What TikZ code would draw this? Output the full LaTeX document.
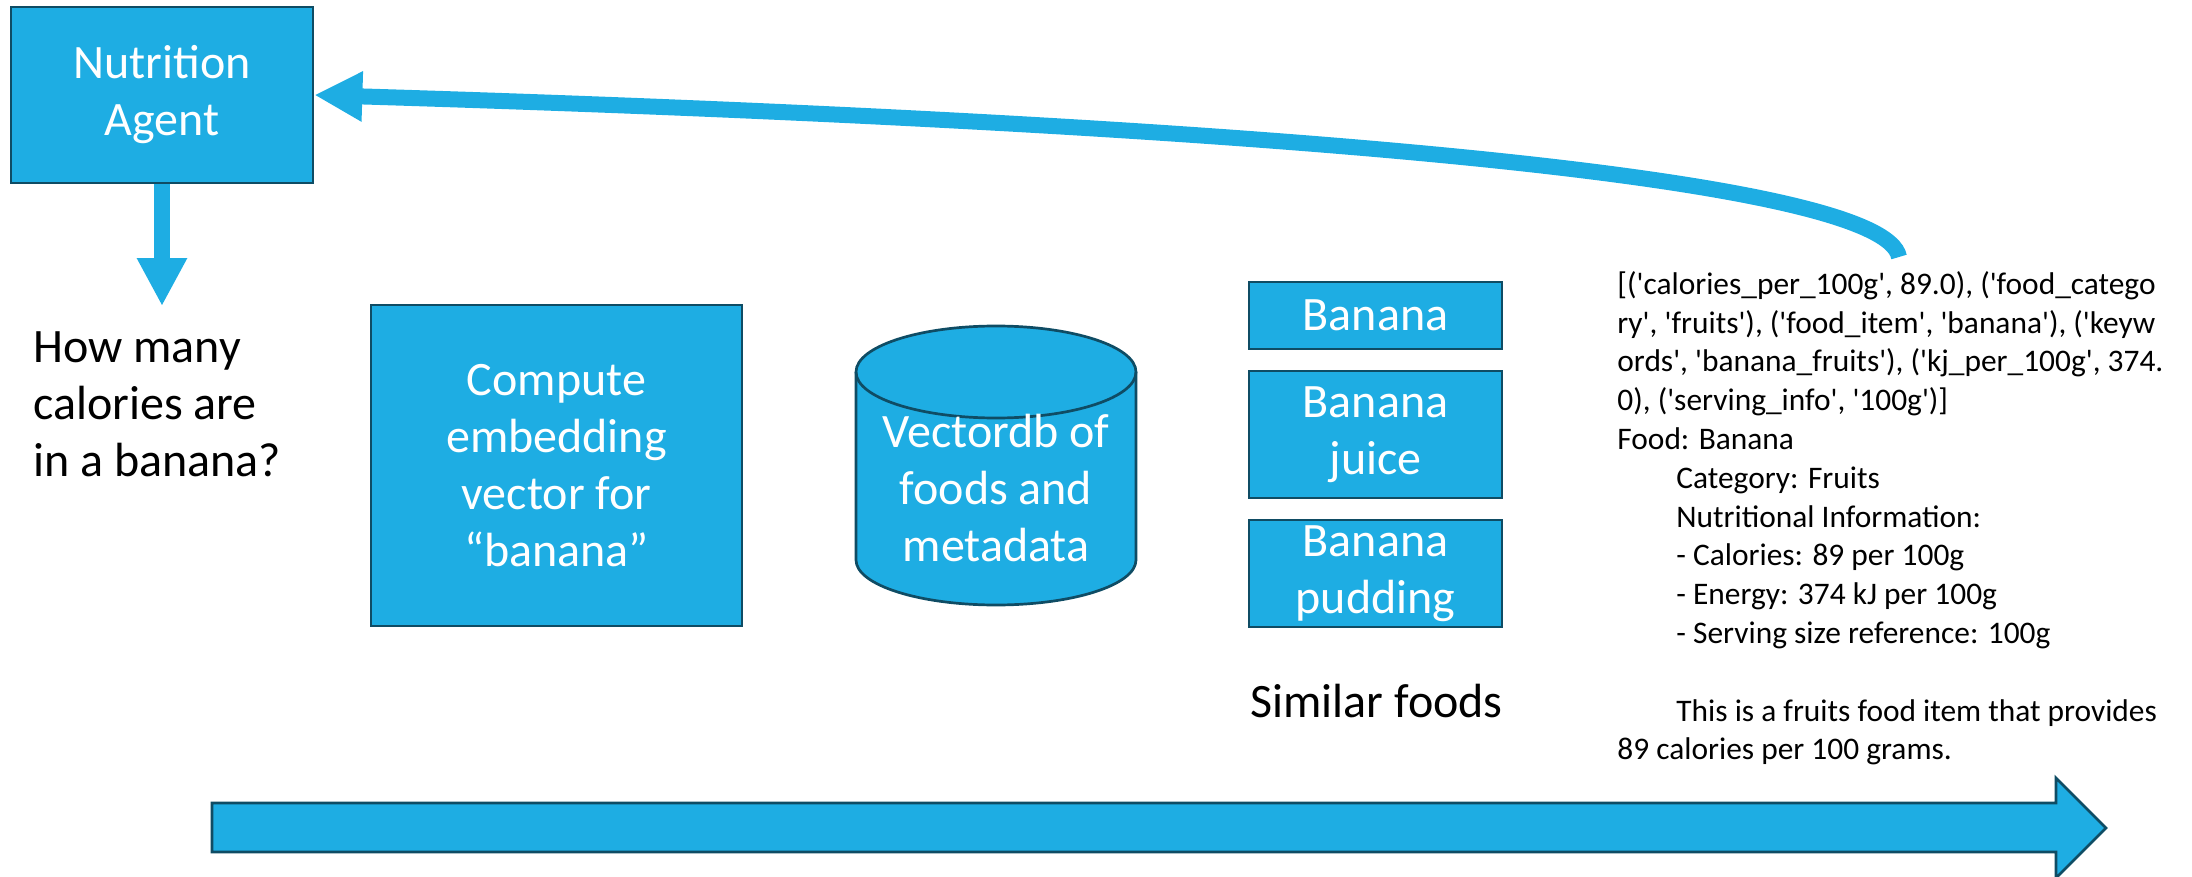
\documentclass[tikz,border=0pt]{standalone}
\usepackage{fontspec}
\setmainfont{Carlito}
\newfontfamily\rawfont{Carlito}[Ligatures=TeXOff]
\usetikzlibrary{positioning}
\usetikzlibrary{arrows.meta}
\definecolor{boxblue}{HTML}{1EADE3}
\definecolor{boxline}{HTML}{0F4C64}
\tikzset{x=0.5pt, y=0.5pt,
    every node/.style={
        inner sep=0pt},
    bluebox/.style={
        draw=boxline,
        line width=1.35pt,
        fill=boxblue,
        text=white,
        align=center,
        font=\fontsize{24}{28.5}\selectfont},
    plain/.style={
        align=left,
        font=\fontsize{24}{28.5}\selectfont},
    fatarrow/.style={
        draw=boxblue,
        line width=8pt,
        -{Triangle[length=24pt,width=23.5pt]}}}

\begin{document}
\begin{tikzpicture}
        \useasboundingbox (0,0) rectangle (2192,-877);

        \node[bluebox,minimum width=151pt,minimum height=88pt] (agent) at (162,-95) {Nutrition\\Agent};
        \node[plain,anchor=west] (ask) at (33,-404) {How many\\calories are\\in a banana?};

        \node[bluebox,minimum width=185.5pt,minimum height=160.5pt] (embed) at (556.5,-465.5) {Compute\\embedding\\vector for\\“banana”};

        \path[draw=boxline,line width=1.35pt,fill=boxblue] (856,-372) -- (856,-560)
            arc[start angle=180,end angle=360,x radius=140,y radius=45] -- (1136,-372)
            arc[start angle=0,end angle=180,x radius=140,y radius=46] -- cycle;
        \draw[boxline,line width=1.35pt] (856,-372) arc[start angle=180,end angle=360,x radius=140,y radius=46];
        \node[plain,align=center,text=white] (vdb) at (996,-488) {Vectordb of\\foods and\\metadata};

        \node[bluebox,minimum width=126.5pt,minimum height=33.5pt] (ban) at (1375.5,-315.5) {Banana};
        \node[bluebox,minimum width=126.5pt,minimum height=63.5pt] (juice) at (1375.5,-434.5) {Banana\\juice};
        \node[bluebox,minimum width=126.5pt,minimum height=53.5pt] (pud) at (1375.5,-573.5) {Banana\\pudding};
        \node[plain,anchor=west] (sim) at (1250,-701) {Similar foods};
        %\node[plain,below=8pt of pud] (sim) {Similar foods};

        \node[anchor=north west,align=left,font=\rawfont\fontsize{15.7}{19.4}\selectfont] (resp) at (1617,-271) {[('calories\_per\_100g', 89.0), ('food\_catego\\
ry', 'fruits'), ('food\_item', 'banana'), ('keyw\\
ords', 'banana\_fruits'), ('kj\_per\_100g', 374.\\
0), ('serving\_info', '100g')]\\
Food: Banana\\
\hspace*{29.5pt}Category: Fruits\\
\hspace*{29.5pt}Nutritional Information:\\
\hspace*{29.5pt}- Calories: 89 per 100g\\
\hspace*{29.5pt}- Energy: 374 kJ per 100g\\
\hspace*{29.5pt}- Serving size reference: 100g\\
\mbox{}\\
\hspace*{29.5pt}This is a fruits food item that provides\\
89 calories per 100 grams.};
        \coordinate (back) at (1899,-257);

        \draw[fatarrow,shorten >=12.5pt] (agent.south) -- (agent.south |- ask.north);
        \draw[fatarrow] (back) .. controls (1885,-180) and (1300,-125) .. (agent.east);

        \path[draw=boxline,line width=1.35pt,fill=boxblue] (212,-803) -- (2056,-803) -- (2056,-778)
            -- (2106,-828) -- (2056,-878) -- (2056,-852) -- (212,-852) -- cycle;
    \end{tikzpicture}
\end{document}
